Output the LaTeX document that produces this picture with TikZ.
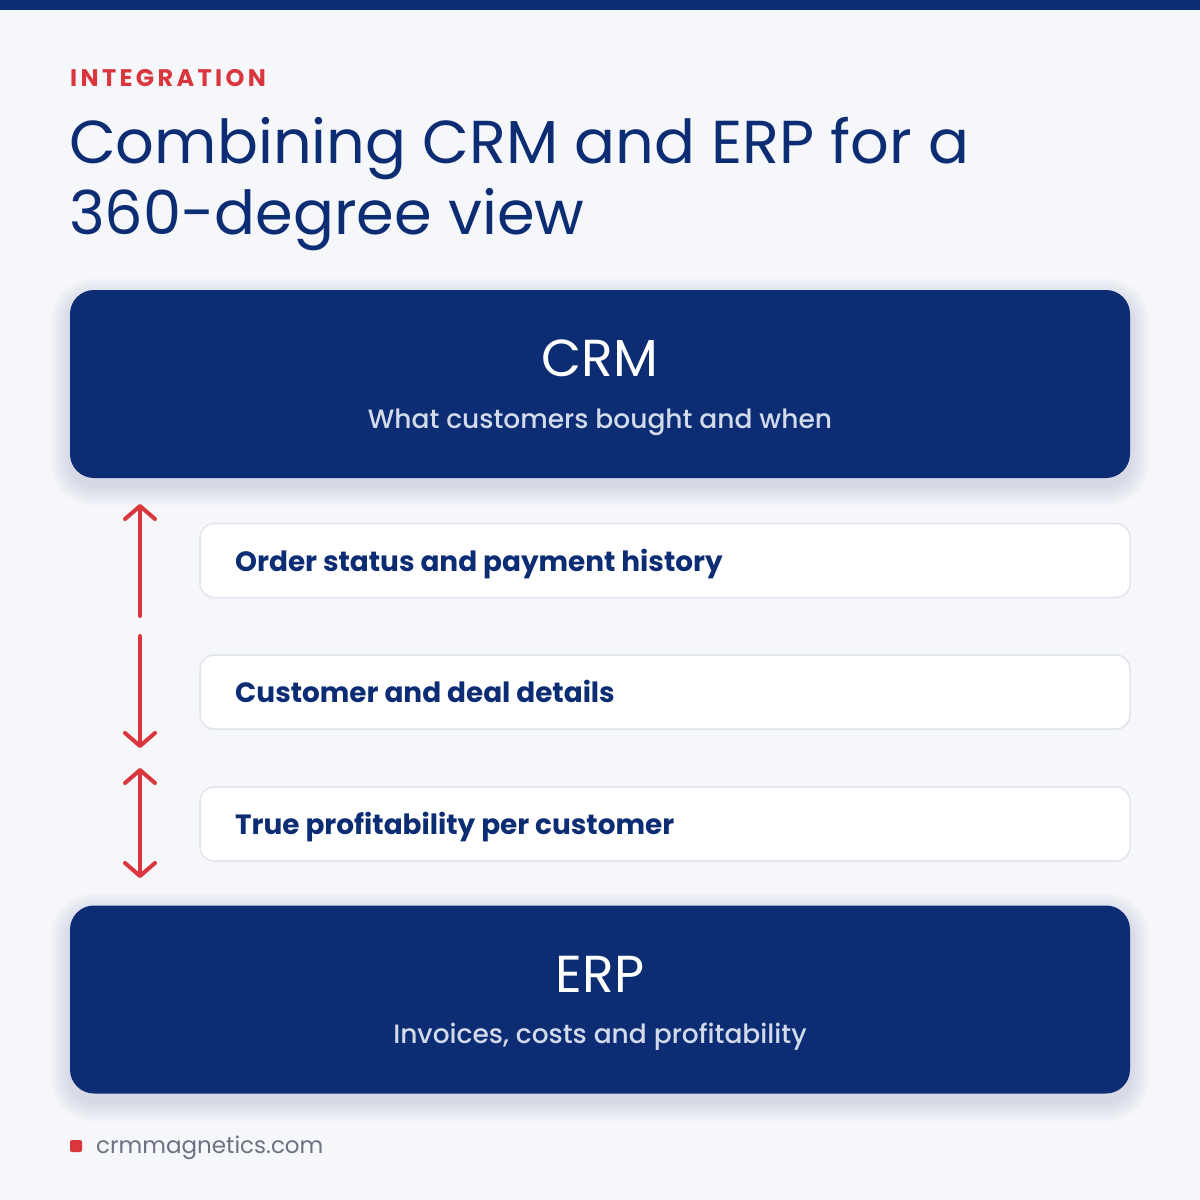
\documentclass[tikz,border=0pt]{standalone}
\usepackage{fontspec}
\setmainfont{Poppins}
\newfontfamily\spaced[LetterSpace=14]{Poppins}
\newfontfamily\popmed{Poppins Medium}
\usetikzlibrary{arrows.meta}
\definecolor{navy}{HTML}{0C2D73}
\definecolor{bgc}{HTML}{F5F7FA}
\definecolor{redc}{HTML}{D9363E}
\definecolor{subc}{HTML}{D2DAEB}
\definecolor{bordc}{HTML}{E1E4EA}
\definecolor{footc}{HTML}{6B7280}
\tikzset{
  bigbox/.style={draw=none, fill=navy, rounded corners=24pt, minimum width=1060pt, minimum height=188pt},
  shadowlayer/.style={fill=navy, opacity=0.012},
  itembox/.style={draw=bordc, line width=1.5pt, fill=white, rounded corners=14pt, minimum width=930pt, minimum height=74pt},
  itemtext/.style={anchor=base west, text=navy, font=\fontsize{27.9}{30}\selectfont\bfseries, inner sep=0pt},
  headtext/.style={anchor=base, text=white, font=\fontsize{52}{56}\selectfont, inner sep=0pt},
  subtext/.style={anchor=base, text=subc, font=\fontsize{26.5}{29}\selectfont\popmed, inner sep=0pt},
  redarrow/.style={draw=redc, line width=4pt, line cap=round}
}
\begin{document}
\begin{tikzpicture}[x=1pt,y=-1pt]
\fill[bgc] (0,0) rectangle (1200,1200);
\useasboundingbox (0,0) rectangle (1200,1200);
\fill[navy] (0,0) rectangle (1200,10);
% soft shadows
\foreach \i in {2,4,...,20} {
  \fill[shadowlayer, rounded corners=24+\i] (70-\i,290+8-\i) rectangle (1130+\i,478+8+\i);
  \fill[shadowlayer, rounded corners=24+\i] (70-\i,905+8-\i) rectangle (1130+\i,1094+8+\i);
}
\node[anchor=base west, inner sep=0pt, text=redc, font=\fontsize{24}{26}\selectfont\spaced\bfseries] (tag) at (70,86) {INTEGRATION};
\node[anchor=base west, inner sep=0pt, text=navy, font=\fontsize{60.6}{66}\selectfont] (t1) at (69,163) {Combining CRM and ERP for a};
\node[anchor=base west, inner sep=0pt, text=navy, font=\fontsize{60.6}{66}\selectfont] (t2) at (69,234) {360-degree view};
\node[bigbox] (crm) at (600,384) {};
\node[headtext] (crmh) at (600,376) {CRM};
\node[subtext] (crms) at (600,428) {What customers bought and when};
\node[itembox] (i1) at (665,560.5) {};
\node[itemtext] (i1t) at (235,571) {Order status and payment history};
\node[itembox] (i2) at (665,692) {};
\node[itemtext] (i2t) at (235,702) {Customer and deal details};
\node[itembox] (i3) at (665,824) {};
\node[itemtext] (i3t) at (235,834) {True profitability per customer};
\node[bigbox] (erp) at (600,999.5) {};
\node[headtext] (erph) at (600,992) {ERP};
\node[subtext] (erps) at (600,1043) {Invoices, costs and profitability};
\coordinate (a1t) at (140,504);
\coordinate (a1b) at (140,616);
\coordinate (a2t) at (140,636);
\coordinate (a2b) at (140,748);
\coordinate (a3t) at (140,768);
\coordinate (a3b) at (140,878);
\draw[redarrow, {Straight Barb[length=13pt, width=30pt, round]}-] (a1t) -- (a1b);
\draw[redarrow, -{Straight Barb[length=13pt, width=30pt, round]}] (a2t) -- (a2b);
\draw[redarrow, {Straight Barb[length=13pt, width=30pt, round]}-{Straight Barb[length=13pt, width=30pt, round]}] (a3t) -- (a3b);
\node[fill=redc, rounded corners=2pt, minimum size=12pt, inner sep=0pt] (dot) at (76,1146) {};
\node[anchor=base west, inner sep=0pt, text=footc, font=\fontsize{23}{26}\selectfont] (foot) at (96,1153) {crmmagnetics.com};
\end{tikzpicture}
\end{document}
